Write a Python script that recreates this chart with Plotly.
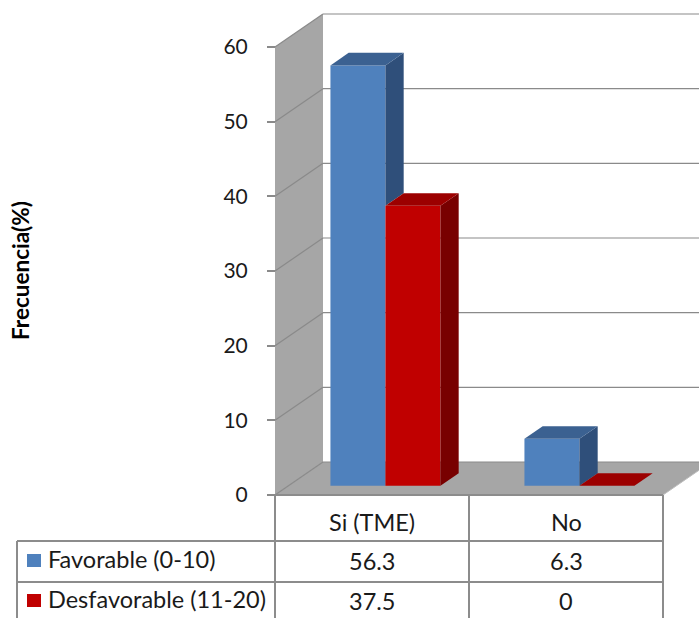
import plotly.graph_objects as go

# ---- data ----
categories = ["Si (TME)", "No"]
favorable = [56.3, 6.3]
desfavorable = [37.5, 0]
series_names = ["Favorable (0-10)", "Desfavorable (11-20)"]
y_ticks = [0, 10, 20, 30, 40, 50, 60]

# ---- canvas / axis geometry ----
W, H = 699, 618
PX_CAT = 194.0          # pixels per category slot
X0_PX = 372.0           # pixel centre of first category
PX_UNIT = 448.0 / 60    # pixels per value unit
Y0_PX = 495.0           # pixel row of value 0 on the front plane

x_range = [-X0_PX / PX_CAT, (W - X0_PX) / PX_CAT]
y_range = [-(H - Y0_PX) / PX_UNIT, Y0_PX / PX_UNIT]

# depth of the 3D box, in axis units
DX = 48 / PX_CAT
DY = 33 / PX_UNIT
# bars sit part-way into the depth
BAR_FRONT = 0.28
BAR_DEPTH = 0.38
dxf, dyf = DX * BAR_FRONT, DY * BAR_FRONT
bdx, bdy = DX * BAR_DEPTH, DY * BAR_DEPTH
BW = 55 / PX_CAT        # bar width

x_left = -0.5
x_right = len(categories) - 0.5
y_top = max(y_ticks)

GRID = "#8a8a8a"
WALL = "#a6a6a6"
FONT = "Lato"

colors = {
    "fav": ("#4f81bd", "#3b6191", "#2f4f7a"),
    "des": ("#c00000", "#9c0000", "#780000"),
}


def px(x, y):
    """paper coords from pixel coords"""
    return x / W, 1 - y / H


shapes = []
# back wall
shapes.append(dict(type="rect", layer="below", xref="x", yref="y",
                   x0=x_left + DX, x1=x_right + DX + 1, y0=DY, y1=y_top + DY,
                   fillcolor="white", line=dict(width=0)))
# side wall
shapes.append(dict(type="path", layer="below", xref="x", yref="y",
                   path=f"M{x_left},0 L{x_left},{y_top} L{x_left+DX},{y_top+DY} L{x_left+DX},{DY} Z",
                   fillcolor=WALL, line=dict(width=0)))
# floor
shapes.append(dict(type="path", layer="below", xref="x", yref="y",
                   path=f"M{x_left},0 L{x_right},0 L{x_right+DX},{DY} L{x_left+DX},{DY} Z",
                   fillcolor=WALL, line=dict(width=0)))
# gridlines on side and back walls
for t in y_ticks:
    shapes.append(dict(type="line", layer="below", xref="x", yref="y",
                       x0=x_left, y0=t, x1=x_left + DX, y1=t + DY,
                       line=dict(color=GRID, width=1.2)))
    shapes.append(dict(type="line", layer="below", xref="x", yref="y",
                       x0=x_left + DX, y0=t + DY, x1=x_right + DX + 1, y1=t + DY,
                       line=dict(color=GRID, width=1.2)))
# floor right edge
shapes.append(dict(type="line", layer="below", xref="x", yref="y",
                   x0=x_right, y0=0, x1=x_right + DX, y1=DY,
                   line=dict(color="#bdbdbd", width=1)))

# ---- data table grid ----
LINE = dict(color="#8c8c8c", width=2)
row_px = [495, 541, 582, 624]
left_px = 17
for i in range(len(categories) + 1):
    xb = x_left + i
    shapes.append(dict(type="line", xref="x", yref="paper",
                       x0=xb, x1=xb, y0=px(0, row_px[0])[1], y1=px(0, row_px[-1])[1], line=LINE))
shapes.append(dict(type="line", xref="x", yref="paper", x0=x_left, x1=x_right,
                   y0=px(0, row_px[0])[1], y1=px(0, row_px[0])[1], line=LINE))
for r in row_px[1:]:
    shapes.append(dict(type="line", xref="paper", yref="paper",
                       x0=left_px / W, x1=(X0_PX + x_right * PX_CAT) / W,
                       y0=px(0, r)[1], y1=px(0, r)[1], line=LINE))
shapes.append(dict(type="line", xref="paper", yref="paper",
                   x0=left_px / W, x1=left_px / W,
                   y0=px(0, row_px[1])[1], y1=px(0, row_px[-1])[1], line=LINE))

fig = go.Figure()

# front faces of the bars
for key, vals, off in (("fav", favorable, -BW / 2), ("des", desfavorable, BW / 2)):
    fig.add_trace(go.Bar(
        x=[i + dxf + off for i in range(len(categories))],
        y=vals, base=[dyf] * len(vals), width=BW,
        marker=dict(color=colors[key][0], line=dict(width=0)),
        hoverinfo="skip", showlegend=False))


def poly(xs, ys, color):
    fig.add_trace(go.Scatter(x=xs + [xs[0]], y=ys + [ys[0]], mode="lines",
                             fill="toself", fillcolor=color, line=dict(width=0, color=color),
                             hoverinfo="skip", showlegend=False))


# top and side faces, back to front
for i in range(len(categories)):
    pairs = [("fav", favorable[i], -BW, desfavorable[i]), ("des", desfavorable[i], 0, None)]
    for key, v, off, covering in pairs:
        L = i + dxf + off
        R = L + BW
        h = dyf + v
        lo = dyf if covering is None else dyf + min(covering, v)
        if h > lo:
            poly([R, R, R + bdx, R + bdx], [lo, h, h + bdy, lo + bdy], colors[key][2])
        poly([L, R, R + bdx, L + bdx], [h, h, h + bdy, h + bdy], colors[key][1])

annotations = []
TXT = dict(family=FONT, size=23.5, color="#1a1a1a")


def label(x, y, text, xref="x", xanchor="center", font=TXT):
    annotations.append(dict(x=x, y=y, xref=xref, yref="paper", text=text, showarrow=False,
                            xanchor=xanchor, yanchor="middle", font=font))


# category header and values
for i, c in enumerate(categories):
    label(i, px(0, 522)[1], c)
    label(i, px(0, 561)[1], f"{favorable[i]:g}")
    label(i, px(0, 601)[1], f"{desfavorable[i]:g}")
# legend keys inside the table
for name, key, ymid in ((series_names[0], "fav", 560), (series_names[1], "des", 600)):
    shapes.append(dict(type="rect", xref="paper", yref="paper",
                       x0=27 / W, x1=41 / W, y0=px(0, ymid + 7)[1], y1=px(0, ymid - 6)[1],
                       fillcolor=colors[key][0], line=dict(width=0)))
    label(46 / W, px(0, ymid - 1)[1], name, xref="paper", xanchor="left")
# value axis title
annotations.append(dict(x=px(21, 0)[0], y=px(0, 271)[1], xref="paper", yref="paper",
                        text="<b>Frecuencia(%)</b>", textangle=-90, showarrow=False,
                        xanchor="center", yanchor="middle",
                        font=dict(family=FONT, size=22.5, color="#000000")))

fig.update_layout(
    width=W, height=H, margin=dict(l=0, r=0, t=0, b=0),
    paper_bgcolor="white", plot_bgcolor="white",
    barmode="overlay", showlegend=False,
    shapes=shapes, annotations=annotations,
    xaxis=dict(range=x_range, visible=False, fixedrange=True),
    yaxis=dict(range=y_range, anchor="free", position=275 / W, side="left",
               tickvals=y_ticks, ticks="outside", ticklen=8, tickcolor=GRID, tickwidth=1.5,
               ticklabelstandoff=15, showgrid=False, zeroline=False, showline=False,
               tickfont=dict(family=FONT, size=21, color="#1a1a1a"), fixedrange=True),
)

fig.write_html("out.html")
